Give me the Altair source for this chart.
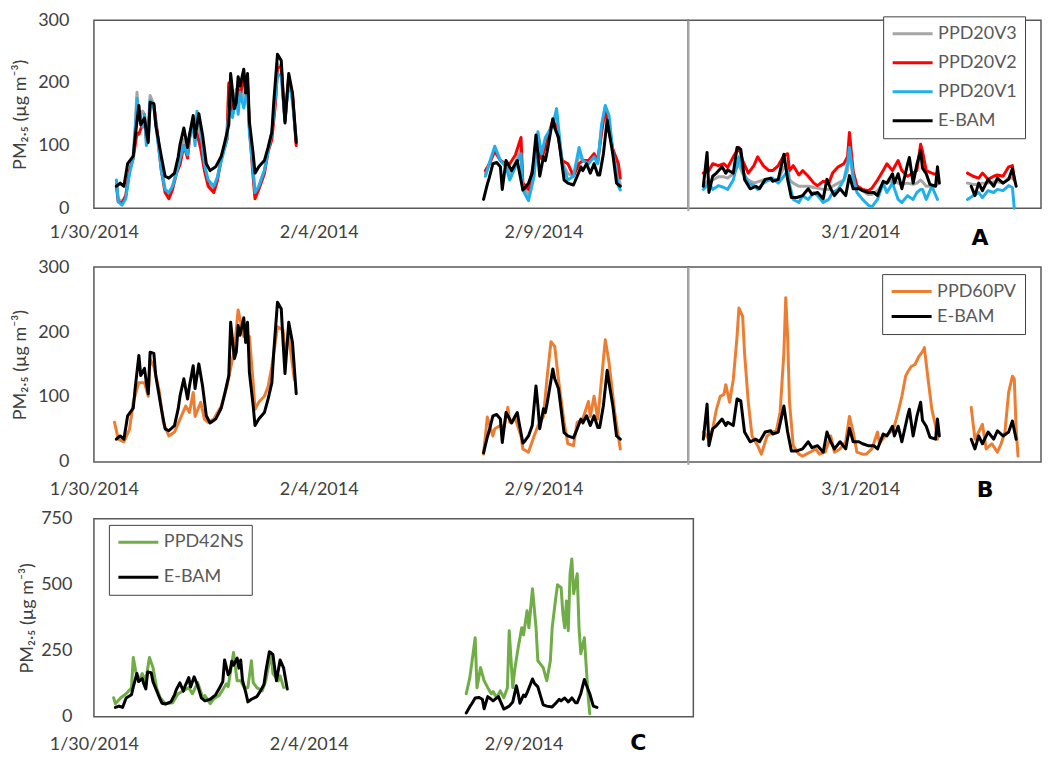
import altair as alt
import pandas as pd

# ---------------------------------------------------------------------------
# Data.  Times are hours after the section start.
# ---------------------------------------------------------------------------
LEFT_START = "2014-01-30T00:00:00"
RIGHT_START = "2014-02-25T04:15:00"

# ---- E-BAM (reference monitor) ----
ebam_l1_h = [12, 14, 16, 18, 21, 22, 24, 25, 27, 28, 29, 30, 32, 33, 36, 38, 40, 43, 45, 46, 48, 50, 51, 53, 54, 56,
             58, 60, 62, 65, 68, 70, 72, 73, 75, 76, 77, 78, 80, 81, 82, 83, 85, 86, 88, 91, 93, 95, 96, 98, 100, 101,
             102, 104, 106, 108]
ebam_l1_v = [35, 40, 35, 71, 83, 113, 164, 133, 144, 122, 105, 169, 167, 133, 82, 51, 48, 56, 82, 102, 128, 97, 117,
             148, 113, 151, 117, 71, 60, 66, 83, 107, 133, 215, 159, 169, 210, 195, 222, 184, 215, 138, 87, 56, 66, 76,
             97, 122, 169, 246, 236, 184, 136, 215, 184, 105]
ebam_l2_h = [208, 210, 211, 213, 215, 217, 218, 220, 221, 223, 225, 226, 227, 229, 230, 232, 234, 236, 237, 238, 240,
             241, 242, 245, 246, 248, 251, 253, 256, 258, 260, 261, 263, 265, 267, 269, 270, 272, 274, 275, 277, 279, 281]
ebam_l2_v = [14, 38, 48, 71, 73, 66, 30, 76, 71, 60, 71, 76, 60, 29, 32, 40, 56, 117, 87, 51, 82, 76, 91, 143, 128, 113,
             45, 40, 37, 51, 66, 60, 71, 56, 71, 53, 53, 87, 141, 122, 87, 40, 35]
ebam_r1_h = [8, 10, 11, 13, 15, 18, 20, 21, 24, 26, 28, 30, 33, 36, 38, 41, 44, 45, 48, 51, 53, 55, 58, 61, 64, 66, 69,
             72, 74, 76, 78, 81, 84, 86, 88, 91, 93, 96, 99, 101, 104, 106, 109, 110, 112, 114, 117, 118, 120, 122, 124,
             125, 127, 129, 132, 133, 134]
ebam_r1_v = [35, 89, 25, 51, 56, 66, 56, 61, 56, 97, 94, 46, 31, 35, 31, 46, 48, 43, 46, 86, 46, 17, 17, 20, 31, 22, 25,
             15, 46, 31, 20, 31, 20, 52, 31, 31, 28, 25, 25, 20, 43, 40, 55, 40, 55, 31, 70, 81, 40, 70, 92, 64, 55, 38,
             35, 66, 40]
ebam_r2_h = [151, 153, 155, 157, 160, 163, 165, 168, 171, 173, 175]
ebam_r2_v = [35, 20, 40, 28, 46, 35, 48, 40, 46, 63, 35]

# ---- PPD20 sensors (V1, V2, V3) ----
ppd20_l1_h = [12, 13, 15, 17, 19, 21, 22, 23, 24, 26, 27, 28, 29, 30, 32, 34, 36, 38, 40, 42, 44, 46, 48, 50, 51, 53,
              54, 55, 57, 59, 61, 64, 66, 68, 71, 72, 74, 76, 77, 78, 80, 82, 83, 85, 86, 88, 91, 93, 95, 97, 98, 100,
              101, 102, 104, 106, 108]
v1_l1 = [45, 10, 5, 15, 55, 80, 120, 175, 145, 130, 150, 100, 110, 172, 160, 110, 60, 30, 25, 35, 55, 80, 100, 85, 115,
         130, 100, 155, 125, 70, 45, 35, 50, 75, 110, 160, 145, 180, 150, 185, 160, 190, 120, 60, 25, 35, 60, 90, 120,
         180, 215, 210, 175, 140, 205, 170, 110]
v2_l1 = [35, 10, 8, 20, 60, 80, 100, 120, 118, 135, 140, 110, 120, 165, 165, 115, 60, 25, 15, 30, 55, 70, 100, 80, 110,
         140, 110, 120, 95, 60, 35, 25, 45, 80, 110, 200, 150, 175, 190, 180, 205, 200, 130, 50, 15, 30, 55, 90, 110,
         170, 225, 225, 180, 140, 210, 180, 100]
v3_l1 = [40, 15, 10, 20, 60, 85, 130, 185, 140, 155, 150, 115, 130, 180, 165, 120, 65, 30, 22, 35, 60, 85, 110, 90, 115,
         145, 110, 145, 115, 65, 40, 30, 50, 80, 110, 195, 150, 190, 180, 195, 175, 205, 130, 60, 20, 35, 60, 95, 120,
         180, 230, 225, 180, 140, 210, 180, 105]

ppd20_l2_h = [209, 211, 214, 217, 220, 222, 225, 228, 229, 232, 235, 237, 239, 241, 245, 247, 250, 253, 256, 259, 261,
              264, 267, 269, 271, 273, 275, 277, 280, 281]
v1_l2 = [51, 71, 99, 76, 66, 45, 66, 87, 29, 12, 51, 122, 87, 113, 133, 159, 71, 45, 51, 97, 76, 71, 82, 71, 133, 164,
         148, 91, 35, 29]
v2_l2 = [60, 70, 91, 76, 71, 71, 85, 113, 40, 30, 76, 90, 79, 97, 141, 128, 76, 71, 51, 71, 76, 76, 87, 76, 120, 159,
         122, 95, 71, 48]
v3_l2 = [55, 70, 95, 76, 68, 55, 72, 95, 35, 20, 60, 110, 85, 105, 138, 145, 73, 55, 51, 85, 76, 73, 84, 73, 128, 162,
         135, 92, 50, 38]

ppd20_r1_h = [8, 11, 13, 16, 19, 21, 24, 27, 29, 32, 35, 37, 40, 43, 45, 48, 51, 53, 54, 56, 59, 61, 64, 67, 69, 72, 75,
              77, 80, 83, 85, 86, 88, 90, 93, 96, 98, 101, 104, 106, 109, 112, 114, 117, 120, 122, 124, 125, 127, 130,
              133]
v1_r1 = [30, 40, 30, 36, 33, 30, 45, 82, 60, 40, 36, 30, 40, 45, 48, 40, 51, 60, 38, 14, 9, 20, 14, 25, 20, 9, 14, 25,
         30, 45, 71, 97, 51, 25, 14, 5, 2, 14, 40, 25, 40, 14, 9, 20, 14, 25, 30, 30, 14, 35, 14]
v2_r1 = [56, 60, 71, 68, 71, 65, 82, 97, 76, 56, 68, 82, 68, 60, 60, 68, 84, 87, 60, 68, 53, 60, 51, 40, 36, 43, 40, 56,
         66, 71, 82, 121, 59, 36, 30, 28, 32, 45, 60, 71, 60, 76, 60, 51, 56, 60, 102, 91, 60, 56, 53]
v3_r1 = [35, 45, 45, 50, 50, 48, 55, 70, 55, 45, 40, 42, 45, 45, 45, 45, 65, 70, 45, 40, 35, 35, 35, 33, 32, 30, 30, 35,
         40, 45, 60, 95, 45, 35, 28, 22, 22, 28, 40, 40, 45, 40, 38, 40, 38, 40, 45, 42, 35, 35, 38]
ppd20_r2_h = [149, 152, 155, 157, 160, 163, 165, 168, 171, 173, 174]
v1_r2 = [14, 20, 25, 17, 28, 25, 30, 28, 36, 33, 0]
v2_r2 = [56, 51, 48, 56, 46, 51, 53, 51, 66, 68, 45]
v3_r2 = [40, 38, 38, 40, 40, 42, 42, 40, 48, 48, 45]

# ---- PPD60PV ----
pv_l1_h = [11, 13, 16, 19, 21, 24, 27, 29, 30, 32, 35, 37, 40, 43, 46, 49, 51, 53, 54, 57, 59, 61, 64, 68, 71, 75, 77,
           80, 83, 85, 86, 88, 91, 93, 95, 98, 101, 102, 104, 107]
pv_l1_v = [61, 35, 31, 50, 92, 122, 122, 101, 158, 147, 107, 61, 40, 46, 66, 86, 76, 107, 70, 92, 66, 61, 66, 86, 116,
           173, 234, 193, 193, 122, 81, 92, 101, 116, 147, 208, 203, 168, 193, 127]
pv_l2_h = [208, 210, 213, 214, 217, 219, 221, 222, 225, 228, 229, 232, 235, 237, 240, 242, 244, 246, 248, 251, 253, 256,
           258, 261, 264, 265, 267, 269, 272, 273, 275, 278, 281]
pv_l2_v = [12, 69, 40, 51, 56, 55, 84, 61, 66, 40, 20, 15, 40, 55, 70, 132, 185, 178, 127, 61, 28, 25, 61, 66, 93, 70,
           101, 66, 158, 188, 153, 77, 20]
pv_r1_h = [8, 11, 13, 15, 17, 19, 20, 22, 24, 26, 27, 29, 30, 32, 34, 37, 39, 42, 45, 47, 49, 51, 52, 53, 54, 56, 59,
           61, 65, 68, 70, 73, 76, 78, 81, 84, 86, 88, 90, 93, 95, 98, 101, 102, 105, 108, 110, 112, 114, 116, 117,
           119, 121, 123, 125, 126, 128, 130, 132, 133]
pv_r1_v = [46, 35, 51, 81, 101, 104, 119, 92, 127, 193, 237, 224, 168, 92, 40, 25, 12, 40, 46, 48, 77, 168, 253, 193,
           92, 25, 12, 9, 15, 20, 12, 15, 40, 15, 20, 31, 70, 46, 15, 12, 12, 20, 46, 28, 40, 46, 55, 77, 101, 132,
           138, 147, 150, 162, 170, 176, 127, 81, 55, 35]
pv_r2_h = [151, 153, 155, 157, 159, 162, 165, 167, 169, 171, 173, 174, 175, 176]
pv_r2_v = [84, 35, 46, 58, 20, 28, 15, 28, 46, 107, 132, 128, 51, 9]

# ---- PPD42NS ----
ns_l1_h = [11, 12, 15, 18, 21, 22, 24, 25, 27, 29, 31, 33, 35, 37, 40, 44, 47, 50, 53, 55, 58, 61, 62, 65, 67, 70, 74,
           75, 78, 80, 82, 84, 86, 88, 89, 91, 94, 96, 99, 100, 103, 104, 106]
ns_l1_v = [72, 49, 72, 87, 110, 224, 148, 136, 163, 136, 224, 186, 110, 72, 49, 53, 87, 98, 110, 87, 129, 68, 80, 49,
           68, 80, 125, 114, 243, 136, 136, 110, 110, 212, 129, 110, 98, 136, 243, 163, 136, 155, 110]
ns_l2_h = [208, 210, 213, 214, 216, 218, 220, 222, 223, 225, 227, 229, 231, 232, 234, 235, 237, 239, 240, 242, 243, 245,
           247, 248, 251, 253, 255, 256, 258, 259, 261, 262, 263, 264, 265, 266, 267, 268, 270, 271, 272, 274, 276, 277]
ns_l2_v = [87, 148, 299, 110, 186, 136, 110, 87, 95, 72, 98, 72, 110, 326, 110, 174, 261, 337, 310, 402, 337, 485, 337,
           212, 186, 136, 212, 337, 450, 500, 489, 390, 337, 439, 326, 542, 598, 466, 542, 337, 239, 299, 87, 11]

# ---------------------------------------------------------------------------
FONT = "Lato"
TXT = "#404040"
FRAME = "#595959"
YTITLE = "PM₂.₅ (µg m⁻³)"


def frame(series, seg, start, hours, values):
    t = pd.Timestamp(start) + pd.to_timedelta(hours, unit="h")
    return pd.DataFrame({"time": t, "pm": values, "series": series, "seg": seg})


def build(parts):
    return pd.concat([frame(*p) for p in parts], ignore_index=True)


ebam_left = [("E-BAM", 1, LEFT_START, ebam_l1_h, ebam_l1_v), ("E-BAM", 2, LEFT_START, ebam_l2_h, ebam_l2_v)]
ebam_right = [("E-BAM", 1, RIGHT_START, ebam_r1_h, ebam_r1_v), ("E-BAM", 2, RIGHT_START, ebam_r2_h, ebam_r2_v)]

dfA_left = build([
    ("PPD20V3", 1, LEFT_START, ppd20_l1_h, v3_l1), ("PPD20V3", 2, LEFT_START, ppd20_l2_h, v3_l2),
    ("PPD20V2", 1, LEFT_START, ppd20_l1_h, v2_l1), ("PPD20V2", 2, LEFT_START, ppd20_l2_h, v2_l2),
    ("PPD20V1", 1, LEFT_START, ppd20_l1_h, v1_l1), ("PPD20V1", 2, LEFT_START, ppd20_l2_h, v1_l2),
] + ebam_left)
dfA_right = build([
    ("PPD20V3", 1, RIGHT_START, ppd20_r1_h, v3_r1), ("PPD20V3", 2, RIGHT_START, ppd20_r2_h, v3_r2),
    ("PPD20V2", 1, RIGHT_START, ppd20_r1_h, v2_r1), ("PPD20V2", 2, RIGHT_START, ppd20_r2_h, v2_r2),
    ("PPD20V1", 1, RIGHT_START, ppd20_r1_h, v1_r1), ("PPD20V1", 2, RIGHT_START, ppd20_r2_h, v1_r2),
] + ebam_right)
dfB_left = build([("PPD60PV", 1, LEFT_START, pv_l1_h, pv_l1_v), ("PPD60PV", 2, LEFT_START, pv_l2_h, pv_l2_v)]
                 + ebam_left)
dfB_right = build([("PPD60PV", 1, RIGHT_START, pv_r1_h, pv_r1_v), ("PPD60PV", 2, RIGHT_START, pv_r2_h, pv_r2_v)]
                  + ebam_right)
dfC = build([("PPD42NS", 1, LEFT_START, ns_l1_h, ns_l1_v), ("PPD42NS", 2, LEFT_START, ns_l2_h, ns_l2_v)]
            + ebam_left)

A_ORDER = ["PPD20V3", "PPD20V2", "PPD20V1", "E-BAM"]
A_COLORS = ["#a5a5a5", "#ff0000", "#1fb0ec", "#000000"]
B_ORDER = ["PPD60PV", "E-BAM"]
B_COLORS = ["#ed7d31", "#000000"]
C_ORDER = ["PPD42NS", "E-BAM"]
C_COLORS = ["#70ad47", "#000000"]

LEFT_DOMAIN = [alt.DateTime(year=2014, month=1, date=30, hours=0),
               alt.DateTime(year=2014, month=2, date=12, hours=5, minutes=20)]
RIGHT_DOMAIN = [alt.DateTime(year=2014, month=2, date=25, hours=4, minutes=15),
                alt.DateTime(year=2014, month=3, date=5, hours=0, minutes=31)]
C_DOMAIN = [alt.DateTime(year=2014, month=1, date=30, hours=0),
            alt.DateTime(year=2014, month=2, date=12, hours=22, minutes=52)]
LEFT_TICKS = [alt.DateTime(year=2014, month=1, date=30), alt.DateTime(year=2014, month=2, date=4),
              alt.DateTime(year=2014, month=2, date=9)]
RIGHT_TICKS = [alt.DateTime(year=2014, month=3, date=1)]


def xaxis(values, pad):
    return alt.Axis(values=values, format="%-m/%-d/%Y", title=None, grid=False, ticks=False, tickSize=0,
                    domain=False, labelFontSize=18, labelColor=TXT, labelFont=FONT, labelPadding=pad,
                    labelFlush=False, labelAngle=0, labelOverlap=False)


def yaxis(values, lpad, tpad):
    return alt.Axis(values=values, title=YTITLE, grid=False, ticks=False, tickSize=0, domain=False,
                    labelFontSize=18, labelColor=TXT, labelFont=FONT, labelPadding=lpad, labelFlush=False,
                    titleFontSize=18, titleFont=FONT, titleFontWeight="normal", titleColor=TXT,
                    titlePadding=tpad)


def legend(x, y, rowpad):
    return alt.Legend(title=None, orient="none", legendX=x, legendY=y, symbolType="M-1,0H4", symbolSize=256,
                      symbolStrokeWidth=3, labelFontSize=18, labelColor="#595959", labelFont=FONT,
                      strokeColor="#404040", fillColor="white", padding=8, rowPadding=rowpad, labelOffset=28)


def layers(df, order, colors, xscale, xax, yscale, yax, leg):
    color = alt.Color("series:N", scale=alt.Scale(domain=order, range=colors), legend=leg)
    out = []
    for name in order:
        out.append(
            alt.Chart(df[df["series"] == name]).mark_line(strokeWidth=3, strokeJoin="round", strokeCap="round")
            .encode(x=alt.X("time:T", scale=xscale, axis=xax),
                    y=alt.Y("pm:Q", scale=yscale, axis=yax),
                    color=color, detail="seg:N"))
    return out


def divider(h):
    return alt.Chart(pd.DataFrame({"k": [0]})).mark_rule(color="#a6a6a6", strokeWidth=2).encode(
        x=alt.value(0), y=alt.value(0), y2=alt.value(h + 3))


def letter(txt, x, y):
    return alt.Chart(pd.DataFrame({"label": [txt]})).mark_text(
        font="DejaVu Sans", fontWeight="bold", fontSize=22, color="#000000").encode(
        x=alt.value(x), y=alt.value(y), text="label:N")


Y300 = alt.Scale(domain=[0, 300], nice=False)
Y750 = alt.Scale(domain=[0, 750], nice=False)
LX = alt.Scale(domain=LEFT_DOMAIN)
RX = alt.Scale(domain=RIGHT_DOMAIN)
CX = alt.Scale(domain=C_DOMAIN)

hA, hB, hC = 188, 195, 198
WL, WR, WC = 595, 353, 600

leftA = alt.layer(*layers(dfA_left, A_ORDER, A_COLORS, LX, xaxis(LEFT_TICKS, 15), Y300,
                          yaxis([0, 100, 200, 300], 25, 8), None)).properties(width=WL, height=hA)
rightA = alt.layer(*layers(dfA_right, A_ORDER, A_COLORS, RX, xaxis(RIGHT_TICKS, 15), Y300, None,
                           legend(195, -4, 10)),
                   divider(hA), letter("A", 292, hA + 30)).properties(width=WR, height=hA)
rowA = alt.hconcat(leftA, rightA, spacing=0, bounds="flush").resolve_scale(
    color="independent", x="independent", y="independent")

leftB = alt.layer(*layers(dfB_left, B_ORDER, B_COLORS, LX, xaxis(LEFT_TICKS, 19), Y300,
                          yaxis([0, 100, 200, 300], 25, 8), None)).properties(width=WL, height=hB)
rightB = alt.layer(*layers(dfB_right, B_ORDER, B_COLORS, RX, xaxis(RIGHT_TICKS, 19), Y300, None,
                           legend(194, 7, 6)),
                   divider(hB), letter("B", 297, hB + 28)).properties(width=WR, height=hB)
rowB = alt.hconcat(leftB, rightB, spacing=0, bounds="flush").resolve_scale(
    color="independent", x="independent", y="independent")

rowC = alt.layer(*layers(dfC, C_ORDER, C_COLORS, CX, xaxis(LEFT_TICKS, 19), Y750,
                         yaxis([0, 250, 500, 750], 22, 4), legend(15, 6, 16)),
                 letter("C", 545, hC + 26)).properties(width=WC, height=hC)

top = alt.concat(rowA, rowB, columns=1, align="none", spacing=7).resolve_scale(
    color="independent", x="independent", y="independent")
chart = alt.concat(top, rowC, columns=1, align="none", spacing=7).resolve_scale(
    color="independent", x="independent", y="independent"
).properties(
    padding={"left": 2, "top": 2, "right": 0, "bottom": 0}
).configure_view(stroke=FRAME, strokeWidth=1.5).configure_legend(labelFont=FONT)

chart.save("out.html", embed_options={"renderer": "svg", "actions": False})
